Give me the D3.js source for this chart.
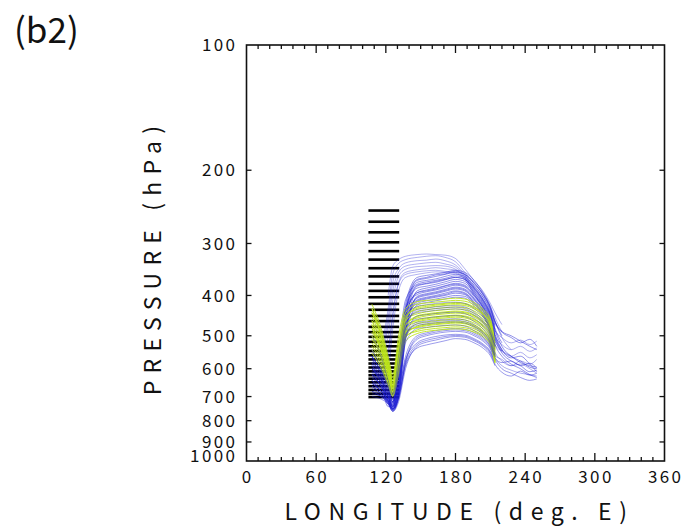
<!DOCTYPE html>
<html>
<head>
<meta charset="utf-8">
<script src="https://cdn.jsdelivr.net/npm/d3@7"></script>
<style>
  html, body { margin: 0; padding: 0; background: #fff; }
  svg { display: block; }
  text { font-family: "Noto Sans CJK JP", "DejaVu Sans", sans-serif; fill: #111; }
</style>
</head>
<body>
<svg id="chart" width="693" height="528"></svg>
<script>
// Axis ticks
const lonTicks = [0, 60, 120, 180, 240, 300, 360];
const presTicks = [100, 200, 300, 400, 500, 600, 700, 800, 900, 1000];

// Release levels (hPa) of the black markers and their longitude span
const releaseLevels = [250, 266, 282, 298, 313, 328, 344, 360, 375, 390, 404, 419, 433, 448,
  461, 476, 490, 503, 517, 530, 544, 557, 570, 583, 596, 609, 622, 634, 647, 661, 675, 689, 702];
const releaseLon = [105, 131.5];

// Longitudes (deg E) at which each trajectory's pressure (hPa) is listed
const trajLon = [108, 116, 122, 126, 131, 137, 147, 155, 163, 171, 180, 188, 196, 204, 210, 214, 220, 228, 236, 244, 250];

// Blue trajectories: upper branch
const blueUpper = [
  [null, null, 400, 340, 328, 322, 319, 318, 319, 320, 326, 345, 368, 392, 418, 440, 470],
  [null, 540, 430, 355, 335, 328, 324, 322, 321, 324, 332, 352, 374, 398, 425, 452, 490],
  [null, 560, 450, 372, 345, 334, 330, 329, 327, 330, 338, 356, 380, 404, 432, 462, 505, 540],
  [null, 580, 470, 390, 352, 340, 336, 334, 333, 336, 342, 358, 384, 410, 440, 475],
  [null, 600, 500, 410, 360, 346, 341, 340, 339, 340, 346, 360, 388, 415, 448, 485, 505, 520, 512, 525, 515],
  [560, 620, 560, 450, 372, 352, 347, 345, 343, 345, 348, 362, 392, 420, 455, 495],
  [null, 620, 540, 440, 375, 356, 351, 349, 348, 350, 352, 364, 395, 425, 460, 500, 525, 540, 530, 545, 535],
  [580, 640, 600, 480, 390, 362, 356, 353, 351, 352, 354, 366, 398, 430, 465, 505]
];

// Blue trajectories: ridge near 180E
const blueRidge = [
  [560, 610, 660, 700, 560, 420, 362, 358, 355, 352, 348, 352, 368, 395, 425, 460, 500],
  [590, 630, 680, 720, 600, 440, 368, 364, 360, 356, 352, 356, 374, 400, 430, 465, 490, 505, 520, 510, 530],
  [610, 640, 720, 700, 560, 440, 372, 368, 365, 360, 356, 360, 378, 405, 436, 472],
  [540, 600, 650, 690, 540, 410, 376, 371, 368, 364, 359, 363, 382, 410, 442, 480, 520],
  [630, 660, 700, 740, 650, 470, 380, 375, 372, 367, 362, 366, 386, 414, 446, 485, 530, 560, 575, 595, 600],
  [580, 620, 700, 690, 560, 430, 384, 380, 376, 371, 366, 370, 390, 418, 450, 490],
  [650, 680, 710, 745, 670, 490, 390, 384, 380, 375, 370, 374, 394, 422, 455, 495, 540, 565, 560, 585, 610],
  [600, 640, 690, 725, 610, 450, 394, 388, 384, 379, 374, 378, 398, 426, 460, 500],
  [560, 610, 660, 700, 570, 430, 398, 392, 388, 383, 378, 382, 402, 430, 465, 505, 545],
  [660, 690, 720, 750, 690, 500, 402, 396, 392, 387, 382, 386, 406, 434, 470, 510, 550, 575, 590, 610, 605],
  [620, 650, 730, 720, 600, 460, 406, 400, 396, 391, 386, 390, 410, 438, 474, 515],
  [570, 620, 670, 712, 590, 445, 410, 404, 400, 395, 390, 394, 414, 442, 478, 520],
  [640, 670, 705, 742, 660, 485, 414, 408, 404, 400, 395, 398, 418, 446, 482, 525, 560, 585, 600, 620, 630],
  [600, 630, 680, 720, 620, 460, 418, 412, 408, 404, 400, 402, 420, 448, 485, 528],
  [680, 700, 725, 755, 700, 510, 422, 416, 412, 408, 404, 406, 424, 450, 488, 530],
  [600, 650, 700, 735, 600, 430, 366, 362, 357, 355, 350, 356, 372, 398, 428, 462, 488, 500, 515, 530, 540],
  [620, 665, 740, 730, 610, 450, 378, 374, 370, 366, 362, 366, 384, 412, 444, 482],
  [590, 640, 690, 730, 620, 450, 394, 390, 386, 380, 376, 380, 400, 428, 462, 502, 540, 560, 580, 590, 595],
  [650, 680, 715, 748, 680, 490, 404, 398, 394, 389, 384, 388, 408, 436, 472, 512],
  [610, 660, 700, 738, 650, 470, 412, 406, 402, 398, 392, 396, 416, 444, 480, 522]
];

// Blue trajectories: lower branch
const blueLower = [
  [650, 680, 715, 750, 690, 560, 500, 492, 486, 482, 480, 482, 492, 508, 530, 562],
  [690, 700, 725, 755, 710, 580, 510, 500, 494, 490, 488, 490, 500, 516, 538, 570, 600, 615, 630, 640, 635],
  [620, 660, 700, 740, 680, 570, 520, 508, 502, 498, 496, 498, 508, 524, 545, 578],
  [700, 710, 730, 760, 720, 600, 530, 518, 512, 506, 502, 504, 514, 530, 552, 585, 612, 625, 608, 622, 615],
  [660, 690, 720, 752, 705, 590, 535, 526, 520, 514, 508, 510, 520, 536, 558, 590],
  [670, 695, 725, 758, 700, 575, 505, 496, 490, 486, 484, 486, 496, 512, 534, 566, 580, 575, 590, 582, 598],
  [640, 680, 715, 750, 700, 585, 525, 513, 507, 502, 499, 501, 511, 527, 548, 580]
];

// Blue trajectories running inside the yellow-green band
const blueMixed = [
  [500, 560, 640, 690, 560, 450, 425, 421, 418, 416, 415, 418, 430, 452, 480, 515, 545],
  [620, 660, 700, 740, 640, 480, 432, 429, 426, 424, 423, 426, 438, 460, 488, 525, 545, 560, 548, 565, 555],
  [540, 600, 660, 710, 590, 465, 440, 437, 434, 432, 431, 434, 446, 468, 495, 532],
  [660, 690, 720, 750, 680, 510, 448, 445, 442, 440, 439, 442, 454, 475, 502, 540],
  [580, 630, 680, 725, 620, 480, 456, 453, 450, 448, 447, 450, 462, 482, 510, 548, 575, 590, 585, 600, 615],
  [630, 670, 710, 745, 660, 500, 464, 461, 458, 456, 455, 458, 470, 490, 517, 555],
  [600, 640, 690, 735, 640, 495, 472, 469, 466, 464, 463, 466, 478, 497, 524, 560],
  [680, 700, 730, 760, 700, 520, 480, 477, 474, 472, 471, 474, 486, 504, 530, 565, 590, 605, 615, 620, 625],
  [560, 610, 665, 720, 600, 470, 436, 433, 430, 428, 427, 430, 442, 464, 492, 528],
  [640, 680, 715, 752, 670, 505, 468, 465, 462, 460, 459, 462, 474, 494, 520, 558, 570, 590, 575, 585, 570]
];

// Yellow-green trajectories
const greenTraj = [
  [420, 480, 560, 620, 500, 430, 414, 411, 410, 408, 406, 408, 416, 432, 455, 520],
  [440, 500, 580, 640, 520, 440, 420, 417, 415, 413, 411, 413, 421, 437, 460, 528],
  [460, 520, 600, 655, 540, 450, 426, 422, 420, 418, 416, 418, 426, 442, 466, 535],
  [430, 490, 570, 630, 530, 448, 432, 428, 425, 423, 421, 423, 431, 447, 471, 540],
  [480, 540, 610, 665, 560, 462, 438, 433, 430, 428, 426, 428, 436, 452, 476, 545],
  [450, 510, 590, 648, 550, 458, 443, 438, 435, 433, 431, 433, 441, 457, 481, 550],
  [500, 555, 625, 675, 575, 472, 448, 443, 440, 438, 436, 438, 446, 462, 486, 555],
  [470, 530, 600, 660, 565, 468, 453, 448, 445, 443, 441, 443, 451, 467, 490, 558],
  [520, 570, 635, 685, 590, 485, 458, 453, 450, 448, 446, 448, 456, 472, 495, 562],
  [490, 545, 615, 670, 580, 480, 463, 458, 455, 453, 451, 453, 461, 477, 500, 565],
  [510, 560, 630, 680, 595, 492, 468, 463, 460, 458, 456, 458, 466, 482, 505, 568],
  [540, 590, 650, 695, 610, 500, 474, 468, 465, 463, 461, 463, 471, 487, 510, 572],
  [460, 520, 600, 660, 575, 488, 478, 473, 470, 468, 466, 468, 476, 492, 514, 575],
  [530, 580, 645, 690, 605, 505, 484, 478, 475, 473, 471, 473, 481, 496, 518, 578],
  [500, 560, 630, 680, 600, 500, 488, 483, 480, 478, 476, 478, 486, 500, 522, 580],
  [550, 600, 660, 700, 620, 515, 494, 488, 485, 483, 481, 483, 490, 504, 526, 582],
  [440, 500, 580, 640, 540, 455, 429, 425, 422, 420, 418, 420, 428, 444, 468, 537],
  [480, 540, 610, 662, 570, 470, 450, 445, 442, 440, 438, 440, 448, 464, 488, 556],
  [430, 500, 585, 650, 560, 470, 460, 455, 452, 450, 448, 450, 458, 474, 497, 563],
  [470, 535, 610, 668, 590, 492, 476, 471, 468, 466, 464, 466, 474, 490, 512, 574]
];

const svg = d3.select("#chart");
const plot = { left: 246.5, right: 664.5, top: 45, bottom: 461 };

const x = d3.scaleLinear().domain([0, 360]).range([plot.left, plot.right]);
const y = d3.scaleLog().domain([100, 1000]).range([plot.top, plot.bottom]);

// Release markers
svg.append("g").selectAll("line").data(releaseLevels).join("line")
  .attr("x1", x(releaseLon[0])).attr("x2", x(releaseLon[1]))
  .attr("y1", d => y(d)).attr("y2", d => y(d))
  .attr("stroke", "#000").attr("stroke-width", 2.6);

// Trajectory paths
const toPoints = row => row.map((p, i) => p == null ? null : [trajLon[i], p]).filter(d => d);
const line = d3.line().x(d => x(d[0])).y(d => y(d[1])).curve(d3.curveMonotoneX);

function drawSet(rows, color, opacity, width) {
  svg.append("g").selectAll("path").data(rows).join("path")
    .attr("d", d => line(toPoints(d)))
    .attr("fill", "none").attr("stroke", color)
    .attr("stroke-opacity", opacity).attr("stroke-width", width);
}
const blue = "#1c1cd2";
drawSet(blueUpper, blue, 0.45, 0.75);
drawSet(blueRidge, blue, 0.6, 0.8);
drawSet(blueLower, blue, 0.55, 0.8);
drawSet(greenTraj, "#bde419", 0.9, 1.0);
drawSet(blueMixed, blue, 0.5, 0.7);

// Frame
const ax = svg.append("g").attr("stroke", "#111").attr("fill", "none");
ax.append("rect")
  .attr("x", plot.left).attr("y", plot.top)
  .attr("width", plot.right - plot.left).attr("height", plot.bottom - plot.top)
  .attr("stroke-width", 1.6);

// Longitude ticks every 10 deg, longer every 60, pointing inward
d3.range(10, 360, 10).forEach(v => {
  const len = v % 60 === 0 ? 8 : 4;
  ax.append("line").attr("x1", x(v)).attr("x2", x(v))
    .attr("y1", plot.top).attr("y2", plot.top + len).attr("stroke-width", 1.3);
  ax.append("line").attr("x1", x(v)).attr("x2", x(v))
    .attr("y1", plot.bottom).attr("y2", plot.bottom - len).attr("stroke-width", 1.3);
});

// Pressure ticks, pointing inward on both sides
presTicks.slice(1, -1).forEach(p => {
  ax.append("line").attr("x1", plot.left).attr("x2", plot.left + 5)
    .attr("y1", y(p)).attr("y2", y(p)).attr("stroke-width", 1.3);
  ax.append("line").attr("x1", plot.right).attr("x2", plot.right - 5)
    .attr("y1", y(p)).attr("y2", y(p)).attr("stroke-width", 1.3);
});

// Tick labels
const tickFont = 17, tickSpacing = 2.4;
svg.append("g").selectAll("text").data(presTicks).join("text")
  .attr("x", 235 + tickSpacing)
  .attr("y", d => (d === 1000 ? y(d) - 5 : y(d)) + 6.2)
  .attr("text-anchor", "end")
  .style("font-size", tickFont + "px")
  .style("letter-spacing", tickSpacing + "px")
  .text(d => d);

svg.append("g").selectAll("text").data(lonTicks).join("text")
  .attr("x", d => x(d) + tickSpacing / 2)
  .attr("y", 483)
  .attr("text-anchor", "middle")
  .style("font-size", tickFont + "px")
  .style("letter-spacing", tickSpacing + "px")
  .text(d => d);

// Axis titles
svg.append("text")
  .attr("x", (plot.left + plot.right) / 2 + 4).attr("y", 520)
  .attr("text-anchor", "middle")
  .style("font-size", "23px").style("letter-spacing", "7.6px")
  .text("LONGITUDE (deg. E)");

svg.append("text")
  .attr("transform", `translate(161, ${(plot.top + plot.bottom) / 2 + 4}) rotate(-90)`)
  .attr("text-anchor", "middle")
  .style("font-size", "23px").style("letter-spacing", "7.2px")
  .text("PRESSURE (hPa)");

// Panel label
svg.append("text")
  .attr("x", 14).attr("y", 43)
  .style("font-size", "35px")
  .text("(b2)");
</script>
</body>
</html>
